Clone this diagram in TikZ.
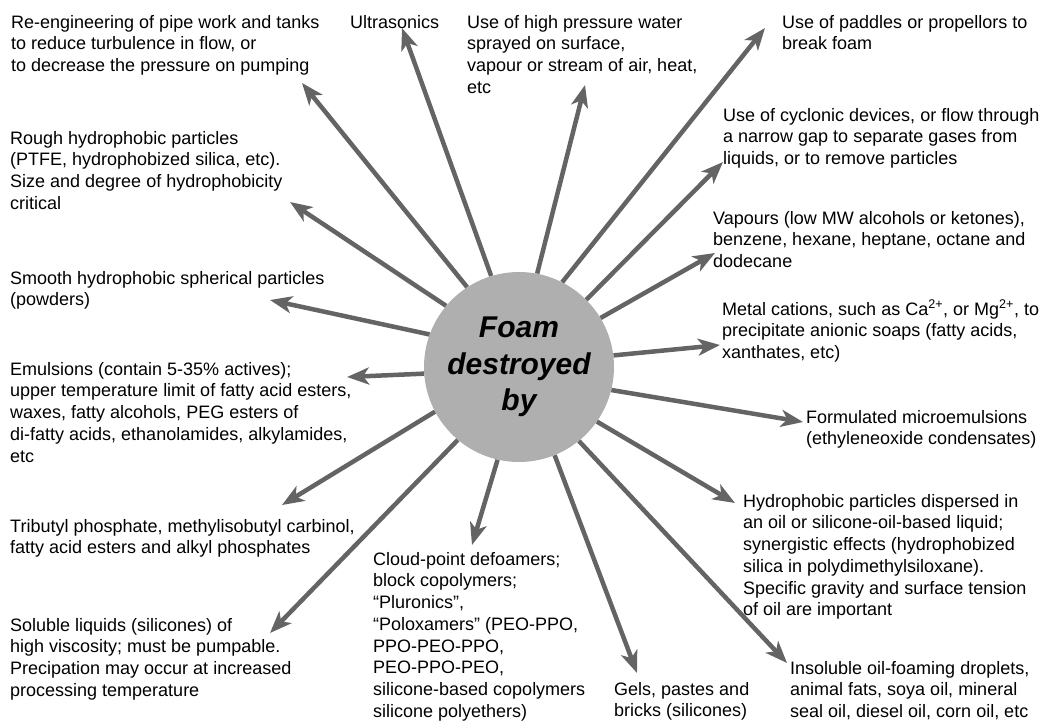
\documentclass[tikz,border=0pt]{standalone}
\usepackage{fontspec}
\setmainfont{Liberation Sans}
\usetikzlibrary{arrows.meta}
\definecolor{arrowgray}{RGB}{100,100,100}
\definecolor{foamgray}{RGB}{175,175,175}
\tikzset{
  arr/.style={line width=4.5pt, draw=arrowgray, -{Stealth[length=22pt,width=17pt,inset=6pt]}},
  lbl/.style={anchor=north west, inner sep=0pt, align=left, font=\fontsize{18}{21.7}\selectfont},
  hub/.style={circle, fill=foamgray, minimum size=190pt, inner sep=0pt, align=center,
    font=\fontsize{30}{36.5}\selectfont\bfseries\itshape}
}
\begin{document}
\begin{tikzpicture}[x=1pt,y=-1pt]
  \useasboundingbox (0,0) rectangle (1053,724);
  \node[hub] (foam) at (519,367) {Foam\\destroyed\\by};

  \node[lbl] (reeng) at (11,15) {Re-engineering of pipe work and tanks\\to reduce turbulence in flow, or\\to decrease the pressure on pumping};
  \node[lbl] (ultra) at (350,15) {Ultrasonics};
  \node[lbl] (water) at (467,15) {Use of high pressure water\\sprayed on surface,\\vapour or stream of air, heat,\\etc};
  \node[lbl] (paddle) at (782,15) {Use of paddles or propellors to\\break foam};
  \node[lbl] (cyclone) at (723,108) {Use of cyclonic devices, or flow through\\a narrow gap to separate gases from\\liquids, or to remove particles};
  \node[lbl] (vapour) at (713,211) {Vapours (low MW alcohols or ketones),\\benzene, hexane, heptane, octane and\\dodecane};
  \node[lbl] (metal) at (722,302) {Metal cations, such as Ca\smash{\textsuperscript{2+}}, or Mg\smash{\textsuperscript{2+}}, to\\precipitate anionic soaps (fatty acids,\\xanthates, etc)};
  \node[lbl] (micro) at (806,410) {Formulated microemulsions\\(ethyleneoxide condensates)};
  \node[lbl] (dispersed) at (743,494) {Hydrophobic particles dispersed in\\an oil or silicone-oil-based liquid;\\synergistic effects (hydrophobized\\silica in polydimethylsiloxane).\\Specific gravity and surface tension\\of oil are important};
  \node[lbl] (insol) at (790,661) {Insoluble oil-foaming droplets,\\animal fats, soya oil, mineral\\seal oil, diesel oil, corn oil, etc};
  \node[lbl] (gels) at (614,682) {Gels, pastes and\\bricks (silicones)};
  \node[lbl] (cloud) at (373,552) {Cloud-point defoamers;\\block copolymers;\\“Pluronics”,\\“Poloxamers” (PEO-PPO,\\PPO-PEO-PPO,\\PEO-PPO-PEO,\\silicone-based copolymers\\silicone polyethers)};
  \node[lbl] (soluble) at (10,618) {Soluble liquids (silicones) of\\high viscosity; must be pumpable.\\Precipation may occur at increased\\processing temperature};
  \node[lbl] (tributyl) at (10,519) {Tributyl phosphate, methylisobutyl carbinol,\\fatty acid esters and alkyl phosphates};
  \node[lbl] (emuls) at (10,362) {Emulsions (contain 5-35\% actives);\\upper temperature limit of fatty acid esters,\\waxes, fatty alcohols, PEG esters of\\di-fatty acids, ethanolamides, alkylamides,\\etc};
  \node[lbl] (smooth) at (10,271) {Smooth hydrophobic spherical particles\\(powders)};
  \node[lbl] (rough) at (10,131) {Rough hydrophobic particles\\(PTFE, hydrophobized silica, etc).\\Size and degree of hydrophobicity\\critical};

  \coordinate (tReeng) at (302,83);
  \coordinate (tUltra) at (402,28);
  \coordinate (tWater) at (585,85);
  \coordinate (tPaddle) at (765,28);
  \coordinate (tCyclone) at (723,162);
  \coordinate (tVapour) at (715,253);
  \coordinate (tMetal) at (720,345);
  \coordinate (tMicro) at (803,422);
  \coordinate (tDispersed) at (735,503);
  \coordinate (tInsol) at (787,663);
  \coordinate (tGels) at (637,673);
  \coordinate (tCloud) at (472,545);
  \coordinate (tSoluble) at (270,633);
  \coordinate (tTributyl) at (282,505);
  \coordinate (tEmuls) at (347,377);
  \coordinate (tSmooth) at (270,300);
  \coordinate (tRough) at (290,202);

  \draw[arr] (foam.123) -- (tReeng);
  \draw[arr] (foam.107) -- (tUltra);
  \draw[arr] (foam.79) -- (tWater);
  \draw[arr] (foam.63) -- (tPaddle);
  \draw[arr] (foam.45) -- (tCyclone);
  \draw[arr] (foam.31) -- (tVapour);
  \draw[arr] (foam.7) -- (tMetal);
  \draw[arr] (foam.-14) -- (tMicro);
  \draw[arr] (foam.-35) -- (tDispersed);
  \draw[arr] (foam.-51) -- (tInsol);
  \draw[arr] (foam.-68) -- (tGels);
  \draw[arr] (foam.257) -- (tCloud);
  \draw[arr] (foam.230) -- (tSoluble);
  \draw[arr] (foam.208) -- (tTributyl);
  \draw[arr] (foam.184) -- (tEmuls);
  \draw[arr] (foam.160) -- (tSmooth);
  \draw[arr] (foam.140) -- (tRough);
\end{tikzpicture}
\end{document}
